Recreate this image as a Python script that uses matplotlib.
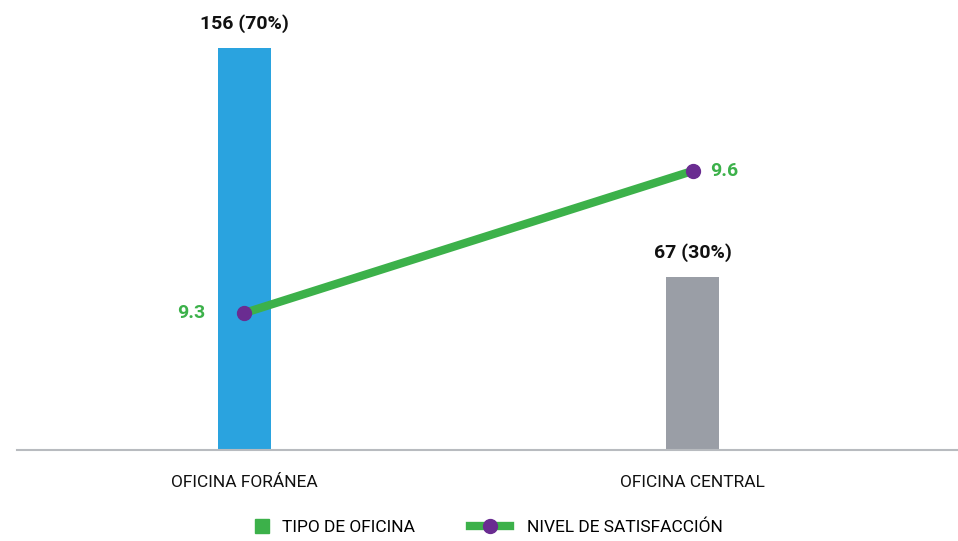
import matplotlib
matplotlib.use("Agg")
import matplotlib.pyplot as plt
from matplotlib.lines import Line2D

categories = ["OFICINA FORÁNEA", "OFICINA CENTRAL"]
counts = [156, 67]
count_labels = ["156 (70%)", "67 (30%)"]
satisfaction = [9.3, 9.6]
bar_colors = ["#2aa3df", "#9a9ea6"]

green = "#3cb14a"
purple = "#6a2c91"

plt.rcParams["font.family"] = ["Roboto", "DejaVu Sans"]

fig = plt.figure(figsize=(9.58, 5.41), dpi=100)
ax = fig.add_axes([17 / 958, 1 - 450 / 541, 940 / 958, 430 / 541])
ax2 = ax.twinx()

x = list(range(len(categories)))
ax.bar(x, counts, width=0.118, color=bar_colors, zorder=2)
ax.set_xlim(-0.507, 1.59)
ax.set_ylim(0, 166.9)

for xi, c, lab in zip(x, counts, count_labels):
    ax.annotate(lab, (xi, c), xytext=(0, 11), textcoords="offset points",
                ha="center", va="bottom", fontsize=14, fontweight="bold",
                color="#111111")

ax2.plot(x, satisfaction, color=green, lw=6, solid_capstyle="butt", zorder=3)
ax2.plot(x, satisfaction, "o", color=purple, ms=10, zorder=4)
ax2.set_ylim(9.0106, 9.919)
ax2.annotate(f"{satisfaction[0]}", (x[0], satisfaction[0]), xytext=(-28, 0),
             textcoords="offset points", ha="right", va="center",
             fontsize=14, fontweight="bold", color=green)
ax2.annotate(f"{satisfaction[1]}", (x[1], satisfaction[1]), xytext=(13, 0),
             textcoords="offset points", ha="left", va="center",
             fontsize=14, fontweight="bold", color=green)

for a in (ax, ax2):
    for s in ("top", "right", "left"):
        a.spines[s].set_visible(False)
    a.set_yticks([])
ax2.spines["bottom"].set_visible(False)
ax.spines["bottom"].set_color("#b8bbbf")
ax.spines["bottom"].set_linewidth(1.5)
ax.set_xticks(x)
ax.set_xticklabels(categories, fontsize=12.5, color="#111111")
ax.tick_params(axis="x", length=0, pad=18)

# two separate legend entries so each handle gets its own size
sq = Line2D([], [], ls="none", marker="s", ms=9.5, color=green,
            label="TIPO DE OFICINA")
ln = Line2D([], [], color=green, lw=6, marker="o", ms=10,
            markerfacecolor=purple, markeredgecolor=purple,
            label="NIVEL DE SATISFACCIÓN")
leg_y = 1 - 527 / 541
fig.legend(handles=[sq], loc="center left", bbox_to_anchor=(255 / 958, leg_y),
           frameon=False, fontsize=12.5, handlelength=0.8, borderpad=0,
           borderaxespad=0, handletextpad=0.75)
fig.legend(handles=[ln], loc="center left", bbox_to_anchor=(470 / 958, leg_y),
           frameon=False, fontsize=12.5, handlelength=2.3, borderpad=0,
           borderaxespad=0, handletextpad=1.0)

fig.savefig("out.png", dpi=100)
